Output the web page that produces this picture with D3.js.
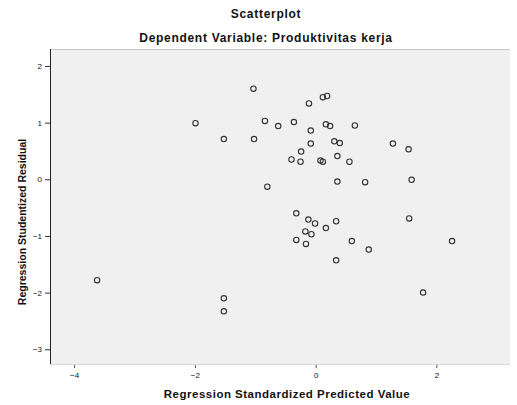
<!DOCTYPE html>
<html>
<head>
<meta charset="utf-8">
<script src="https://cdn.jsdelivr.net/npm/d3@7"></script>
<style>
  html, body { margin: 0; padding: 0; background: #ffffff; }
  svg { display: block; }
  text { font-family: "Liberation Sans", Arial, sans-serif; fill: #111; }
</style>
</head>
<body>
<svg id="chart" width="517" height="405"></svg>
<script>
// ---- data ----
const title = "Scatterplot";
const subtitle = "Dependent Variable: Produktivitas kerja";
const xLabel = "Regression Standardized Predicted Value";
const yLabel = "Regression Studentized Residual";
const xTicks = [-4, -2, 0, 2];
const yTicks = [2, 1, 0, -1, -2, -3];
const predicted = [
  -1.03, -1.99, -0.84, -0.62, -0.36, -1.52, -1.02, -0.80, -0.40, 0.12,
   0.19, -0.11,  0.17,  0.24,  0.65, -0.08,  0.31,  0.40, -0.08, 1.28,
  -0.24, -0.25,  0.08,  0.12,  0.36,  0.56,  0.36,  0.82, -0.32, -0.12,
  -0.01,  0.17,  0.34, -0.17, -0.07, -0.32, -0.16,  0.60,  0.88,  0.34,
   1.54,  1.59,  1.55,  2.26,  1.78, -3.62, -1.52, -1.52
];
const residual = [
   1.60,  0.99,  1.03,  0.94,  1.01,  0.71,  0.71, -0.13,  0.35,  1.45,
   1.47,  1.34,  0.97,  0.94,  0.95,  0.86,  0.67,  0.64,  0.63,  0.63,
   0.49,  0.31,  0.33,  0.31,  0.41,  0.31, -0.04, -0.05, -0.60, -0.71,
  -0.78, -0.86, -0.74, -0.92, -0.97, -1.07, -1.14, -1.09, -1.24, -1.43,
   0.53, -0.01, -0.69, -1.09, -2.00, -1.78, -2.10, -2.33
];

// ---- layout ----
const svg = d3.select("#chart");
const plot = { left: 50, top: 49, right: 510, bottom: 364 };

const x = d3.scaleLinear().domain([-4.40, 3.22]).range([plot.left, plot.right]);
const y = d3.scaleLinear().domain([-3.26, 2.30]).range([plot.bottom, plot.top]);

// background
svg.append("rect")
  .attr("x", plot.left).attr("y", plot.top)
  .attr("width", plot.right - plot.left).attr("height", plot.bottom - plot.top)
  .attr("fill", "#f0f0f0");
svg.append("line")
  .attr("x1", plot.left).attr("x2", plot.right)
  .attr("y1", plot.top + 0.5).attr("y2", plot.top + 0.5)
  .attr("stroke", "#c8c8c8");

// axes
const xAxis = d3.axisBottom(x).tickValues(xTicks).tickSize(4).tickPadding(4)
  .tickFormat(d3.format("d"));
const yAxis = d3.axisLeft(y).tickValues(yTicks).tickSize(5).tickPadding(3)
  .tickFormat(d3.format("d"));

const gx = svg.append("g").attr("transform", `translate(0,${plot.bottom})`).call(xAxis);
gx.select(".domain").remove();
gx.selectAll(".tick line").attr("stroke", "#555");
gx.selectAll(".tick text").attr("font-size", 8).attr("font-family", "Liberation Sans, Arial, sans-serif").attr("fill", "#222");

const gy = svg.append("g").attr("transform", `translate(${plot.left},0)`).call(yAxis);
gy.select(".domain").remove();
gy.selectAll(".tick line").attr("stroke", "#333");
gy.selectAll(".tick text").attr("font-size", 8).attr("font-family", "Liberation Sans, Arial, sans-serif").attr("fill", "#222");

// axis lines
svg.append("line")
  .attr("x1", plot.left + 0.5).attr("x2", plot.left + 0.5)
  .attr("y1", plot.top).attr("y2", plot.bottom)
  .attr("stroke", "#222").attr("stroke-width", 1);
svg.append("line")
  .attr("x1", plot.left).attr("x2", plot.right)
  .attr("y1", plot.bottom + 0.5).attr("y2", plot.bottom + 0.5)
  .attr("stroke", "#d8d8d8").attr("stroke-width", 1);

// points
const pts = predicted.map((v, i) => ({ px: v, py: residual[i] }));
svg.append("g").selectAll("circle").data(pts).join("circle")
  .attr("cx", d => x(d.px))
  .attr("cy", d => y(d.py))
  .attr("r", 2.7)
  .attr("fill", "none")
  .attr("stroke", "#333")
  .attr("stroke-width", 1.1);

// titles
svg.append("text").attr("x", 266).attr("y", 18).attr("text-anchor", "middle")
  .attr("font-size", 12).attr("font-weight", "bold").attr("letter-spacing", 0.7).text(title);
svg.append("text").attr("x", 266).attr("y", 42).attr("text-anchor", "middle")
  .attr("font-size", 12).attr("font-weight", "bold").attr("letter-spacing", 0.7).text(subtitle);

// axis labels
svg.append("text").attr("x", 287).attr("y", 398).attr("text-anchor", "middle")
  .attr("font-size", 11.5).attr("font-weight", "bold").attr("letter-spacing", 0.5).text(xLabel);
svg.append("text")
  .attr("transform", "translate(26,222) rotate(-90)")
  .attr("text-anchor", "middle")
  .attr("font-size", 10.5).attr("font-weight", "bold").text(yLabel);
</script>
</body>
</html>
